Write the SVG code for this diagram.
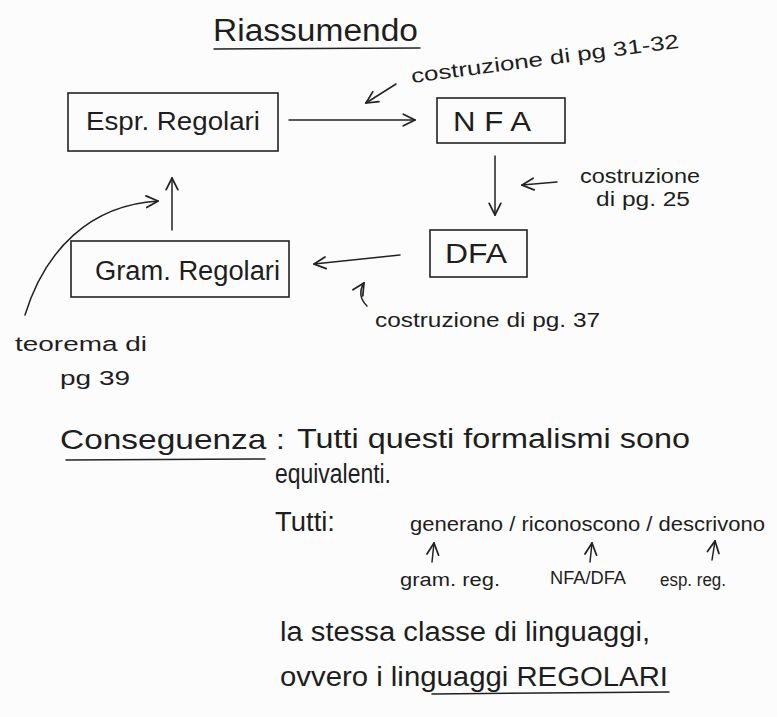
<svg xmlns="http://www.w3.org/2000/svg" width="777" height="717" viewBox="0 0 777 717">
<defs>
<style>
text{font-family:"Liberation Sans",Arial,sans-serif;fill:#1e1e1e}
.box{fill:none;stroke:#222;stroke-width:1.6}
.ln{fill:none;stroke:#222;stroke-width:1.5;stroke-linecap:round}
.arr{marker-end:url(#ah)}
.note{font-size:20px}
.big{font-size:27px}
.sm{font-size:18px}
</style>
<marker id="ah" viewBox="0 0 12 12" refX="11" refY="6" markerWidth="14" markerHeight="14" markerUnits="userSpaceOnUse" orient="auto">
<path d="M1,1 L11,6 L1,11" fill="none" stroke="#222" stroke-width="1.5" stroke-linecap="round"/>
</marker>
</defs>
<rect width="777" height="717" fill="#fcfcfc"/>

<g id="title">
<text x="213" y="41" font-size="31" textLength="205" lengthAdjust="spacingAndGlyphs">Riassumendo</text>
<path class="ln" d="M214,49 L420,48"/>
</g>

<g id="node-esp">
<rect class="box" x="68" y="93" width="210" height="58"/>
<text x="86" y="130" font-size="26" textLength="174" lengthAdjust="spacingAndGlyphs">Espr. Regolari</text>
</g>

<g id="node-nfa">
<rect class="box" x="437" y="98" width="128" height="45"/>
<text x="453" y="131" font-size="28" textLength="78" lengthAdjust="spacingAndGlyphs">N F A</text>
</g>

<g id="node-dfa">
<rect class="box" x="430" y="230" width="97" height="47"/>
<text x="445" y="263" font-size="27" textLength="62" lengthAdjust="spacingAndGlyphs">DFA</text>
</g>

<g id="node-gram">
<rect class="box" x="71" y="241" width="218" height="56"/>
<text x="95" y="280" font-size="27" textLength="185" lengthAdjust="spacingAndGlyphs">Gram. Regolari</text>
</g>

<g id="connectors">
<path class="ln arr" d="M289,120 L415,120"/>
<path class="ln arr" d="M495,156 L495,215"/>
<path class="ln arr" d="M400,255 L314,264"/>
<path class="ln arr" d="M172,230 L172,178"/>
<path class="ln arr" d="M25,315 C45,250 90,205 158,201"/>
<path class="ln arr" d="M396,84 L366,103"/>
<path class="ln arr" d="M557,182 L522,185"/>
<path class="ln arr" d="M367,306 C360,299 359,291 364,283"/>
<path class="ln arr" d="M432,562 L434,543"/>
<path class="ln arr" d="M590,562 L592,543"/>
<path class="ln arr" d="M712,560 L715,541"/>
</g>

<g id="labels">
<text class="note" transform="translate(412,83) rotate(-7.5)" textLength="270" lengthAdjust="spacingAndGlyphs">costruzione di pg 31-32</text>
<text class="note" x="580" y="183" textLength="120" lengthAdjust="spacingAndGlyphs">costruzione</text>
<text class="note" x="596" y="206" textLength="94" lengthAdjust="spacingAndGlyphs">di pg. 25</text>
<text class="note" x="375" y="327" textLength="225" lengthAdjust="spacingAndGlyphs">costruzione di pg. 37</text>
<text class="note" x="15" y="351" textLength="132" lengthAdjust="spacingAndGlyphs">teorema di</text>
<text class="note" x="60" y="385" textLength="70" lengthAdjust="spacingAndGlyphs">pg 39</text>
</g>

<g id="conclusion">
<text x="60" y="449" font-size="28" textLength="225" lengthAdjust="spacingAndGlyphs">Conseguenza :</text>
<path class="ln" d="M66,460 L265,459"/>
<text class="big" x="297" y="448" textLength="393" lengthAdjust="spacingAndGlyphs">Tutti questi formalismi sono</text>
<text class="big" x="275" y="483" textLength="116" lengthAdjust="spacingAndGlyphs">equivalenti.</text>
<text class="big" x="275" y="531" textLength="60" lengthAdjust="spacingAndGlyphs">Tutti:</text>
<text x="410" y="531" font-size="21" textLength="355" lengthAdjust="spacingAndGlyphs">generano / riconoscono / descrivono</text>
<text class="sm" x="400" y="586" textLength="100" lengthAdjust="spacingAndGlyphs">gram. reg.</text>
<text class="sm" x="550" y="584" textLength="76" lengthAdjust="spacingAndGlyphs">NFA/DFA</text>
<text class="sm" x="660" y="586" textLength="66" lengthAdjust="spacingAndGlyphs">esp. reg.</text>
<text class="big" x="280" y="641" textLength="370" lengthAdjust="spacingAndGlyphs">la stessa classe di linguaggi,</text>
<text class="big" x="280" y="686" textLength="388" lengthAdjust="spacingAndGlyphs">ovvero i linguaggi REGOLARI</text>
<path class="ln" d="M432,694 L669,692"/>
</g>
</svg>
